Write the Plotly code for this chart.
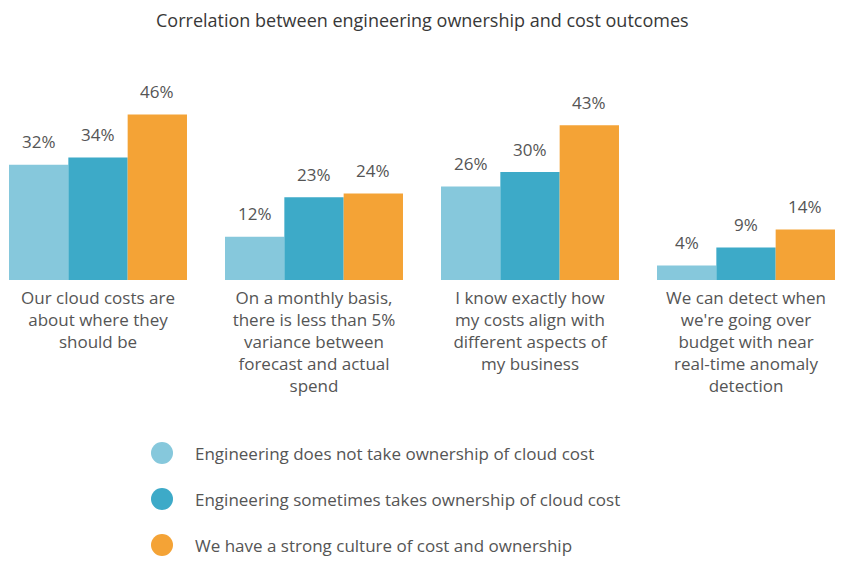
import plotly.graph_objects as go

categories = [
    "Our cloud costs are<br>about where they<br>should be",
    "On a monthly basis,<br>there is less than 5%<br>variance between<br>forecast and actual<br>spend",
    "I know exactly how<br>my costs align with<br>different aspects of<br>my business",
    "We can detect when<br>we're going over<br>budget with near<br>real-time anomaly<br>detection",
]
series_names = [
    "Engineering does not take ownership of cloud cost",
    "Engineering sometimes takes ownership of cloud cost",
    "We have a strong culture of cost and ownership",
]
not_owned = [32, 12, 26, 4]
sometimes_owned = [34, 23, 30, 9]
strong_culture = [46, 24, 43, 14]
series_values = [not_owned, sometimes_owned, strong_culture]
colors = ["#86C8DC", "#3DAAC8", "#F4A336"]

# the page body adds an 8px margin; size the figure to fit the window
OFF = 8
W, H = 852 - 2 * OFF, 568 - 2 * OFF
FONT = "Open Sans"
TXT = "#555555"
bargap = 0.176
xpos = list(range(len(categories)))

t = 60 - OFF
b = H - (280 - OFF)
ph = H - t - b


def wy(py):
    """window pixel y -> paper fraction"""
    return (H - b - (py - OFF)) / ph


def wx(px):
    return (px - OFF) / W


fig = go.Figure()
for name, vals, col in zip(series_names, series_values, colors):
    fig.add_trace(go.Bar(
        x=xpos, y=vals, name=name, marker=dict(color=col, line=dict(width=0)),
        showlegend=False, hoverinfo="y",
    ))

bw = (1 - bargap) / len(series_values)
annotations = []
for k, vals in enumerate(series_values):
    for i, v in enumerate(vals):
        annotations.append(dict(
            x=i + (k - 1) * bw, y=v, xref="x", yref="y",
            text=f"{v}%", showarrow=False, yanchor="middle", yshift=23,
            font=dict(family=FONT, size=17, color=TXT),
        ))

annotations.append(dict(
    x=wx(422), y=wy(20), xref="paper", yref="paper", xanchor="center", yanchor="middle",
    text="Correlation between engineering ownership and cost outcomes",
    showarrow=False, font=dict(family=FONT, size=18, color="#383838"),
))

shapes = []
leg_y = [453, 499, 545]
for name, col, py in zip(series_names, colors, leg_y):
    shapes.append(dict(
        type="circle", xref="paper", yref="paper",
        x0=wx(162 - 11), x1=wx(162 + 11),
        y0=wy(py + 11), y1=wy(py - 11), line=dict(width=0), fillcolor=col,
    ))
    annotations.append(dict(
        x=wx(193), y=wy(py), xref="paper", yref="paper", text=name,
        showarrow=False, xanchor="left", yanchor="middle",
        font=dict(family=FONT, size=17, color=TXT),
    ))

c0 = 98 - OFF
fig.update_layout(
    width=W, height=H,
    margin=dict(l=0, r=0, t=t, b=b),
    paper_bgcolor="white", plot_bgcolor="white",
    barmode="group", bargap=bargap, bargroupgap=0,
    xaxis=dict(
        range=[-c0 / 216, (W - c0) / 216], tickmode="array", tickvals=xpos, ticktext=categories,
        showgrid=False, zeroline=False, showline=False, ticks="",
        tickfont=dict(family=FONT, size=17, color=TXT), ticklabelstandoff=6,
    ),
    yaxis=dict(range=[0, ph / 3.6], visible=False, showgrid=False, zeroline=False),
    annotations=annotations, shapes=shapes,
    font=dict(family=FONT),
)
fig.write_html("out.html")
